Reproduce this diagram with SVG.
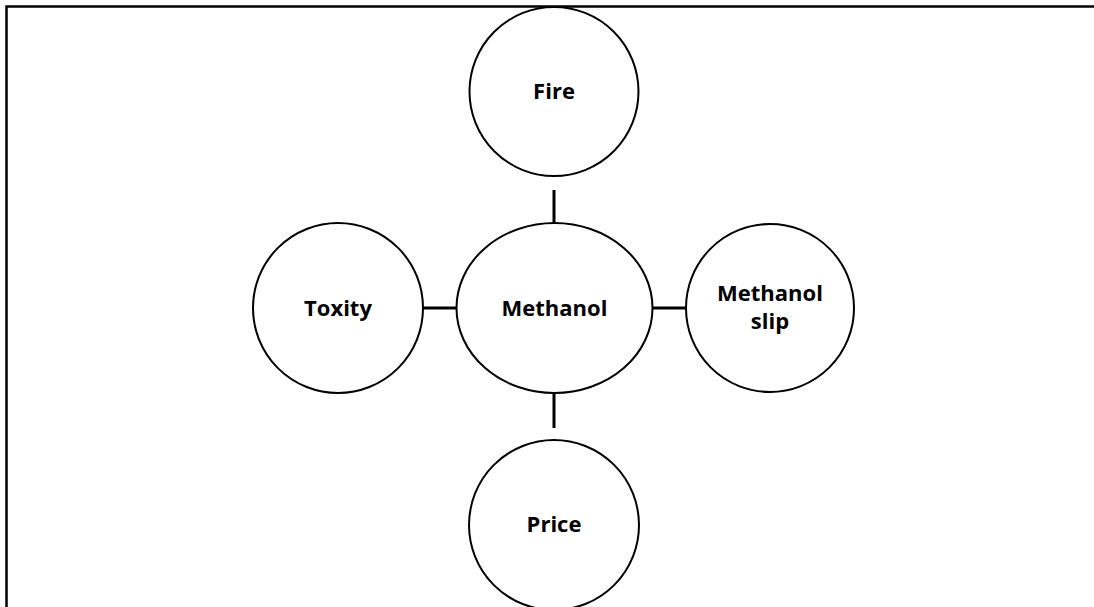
<svg xmlns="http://www.w3.org/2000/svg" width="1094" height="607" viewBox="0 0 1094 607">
  <style>
    .node { fill: #ffffff; stroke: #000000; stroke-width: 2; }
    .label { font-family: "Open Sans", "Noto Sans", "Liberation Sans", sans-serif; font-weight: bold; font-size: 22px; fill: #000000; text-anchor: middle; }
    .link { stroke: #000000; stroke-width: 3; fill: none; }
    .frame { stroke: #000000; stroke-width: 2.5; fill: none; }
  </style>
  <rect x="0" y="0" width="1094" height="607" fill="#ffffff"/>
  <!-- outer frame (top and left edges) -->
  <path class="frame" d="M6.5,607 V6.5 H1094"/>

  <!-- links between the central node and its satellites -->
  <g id="connectors">
    <line class="link" x1="554" y1="190" x2="554" y2="224"/>
    <line class="link" x1="423" y1="308" x2="457" y2="308"/>
    <line class="link" x1="652" y1="308" x2="687" y2="308"/>
    <line class="link" x1="554" y1="393" x2="554" y2="428"/>
  </g>

  <g id="fire">
    <circle class="node" cx="554" cy="91.5" r="84.5"/>
    <text class="label" x="554" y="99">Fire</text>
  </g>

  <g id="methanol">
    <ellipse class="node" cx="554.5" cy="308" rx="98" ry="85"/>
    <text class="label" x="554.5" y="316">Methanol</text>
  </g>

  <g id="toxity">
    <circle class="node" cx="338" cy="308" r="85"/>
    <text class="label" x="338" y="316">Toxity</text>
  </g>

  <g id="methanol-slip">
    <circle class="node" cx="770" cy="308" r="84"/>
    <text class="label" x="770" y="301">Methanol</text>
    <text class="label" x="770" y="329">slip</text>
  </g>

  <g id="price">
    <circle class="node" cx="554" cy="525" r="85"/>
    <text class="label" x="554" y="532">Price</text>
  </g>
</svg>
